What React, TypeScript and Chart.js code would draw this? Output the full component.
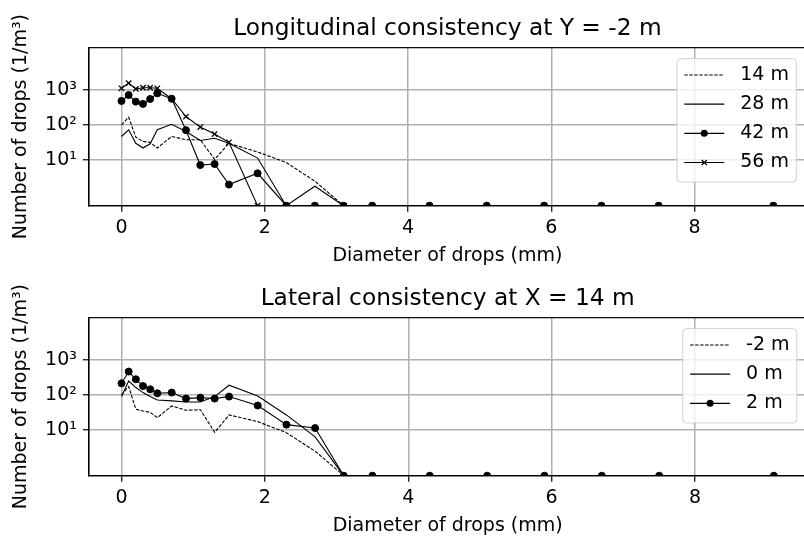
import React, { useEffect, useRef } from 'react';
import { Chart, registerables } from 'chart.js';

Chart.register(...registerables);

// ---------- data ----------
const diameters = [0, 0.1, 0.2, 0.3, 0.4, 0.5, 0.7, 0.9, 1.1, 1.3, 1.5, 1.9, 2.3, 2.7, 3.1, 3.5, 4.3, 5.1, 5.9, 6.7, 7.5, 9.1];
const xTicks = [0, 2, 4, 6, 8];
const yTicks = [10, 100, 1000];
const yTickLabels = ['10¹', '10²', '10³'];

const long14 = [100, 166, 45, 34, 32, 22, 47, 38, 38, 10.5, 30, 17, 8.5, 2.5, 0, 0, 0, 0, 0, 0, 0, 0];
const long28 = [47, 73, 30, 22, 29, 73, 105, 65, 36, 42, 30, 11.4, 0, 1.8, 0, 0, 0, 0, 0, 0, 0, 0];
const long42 = [484, 716, 462, 398, 550, 797, 560, 71, 7.2, 7.7, 2.0, 4.2, 0, 0, 0, 0, 0, 0, 0, 0, 0, 0];
const long56 = [1110, 1550, 1070, 1150, 1150, 1110, 560, 174, 87, 55, 32, 0, 0, 0, 0, 0, 0, 0, 0, 0, 0, 0];

const latM2 = [100, 174, 39, 35, 32, 22.6, 48.6, 36.6, 38, 8.6, 27, 17.4, 8.4, 2.5, 0, 0, 0, 0, 0, 0, 0, 0];
const lat0 = [90, 250, 163, 117, 90, 72, 68, 63, 63, 90, 190, 94, 27, 6.4, 0, 0, 0, 0, 0, 0, 0, 0];
const lat2 = [215, 465, 280, 180, 145, 112, 117, 79, 84, 79, 90, 50, 14.3, 11.4, 0, 0, 0, 0, 0, 0, 0, 0];

const longLabels = ['14 m', '28 m', '42 m', '56 m'];
const latLabels = ['-2 m', '0 m', '2 m'];

const Y_MIN = 0.5;
const Y_MAX = 16000;
const X_MIN = -0.455;
const X_MAX = 9.555;

const FONT = 'DejaVu Sans';

type Kind = 'dashed' | 'solid' | 'dot' | 'cross';

interface Series {
  label: string;
  values: number[];
  kind: Kind;
}

const longSeries: Series[] = [
  { label: longLabels[0], values: long14, kind: 'dashed' },
  { label: longLabels[1], values: long28, kind: 'solid' },
  { label: longLabels[2], values: long42, kind: 'dot' },
  { label: longLabels[3], values: long56, kind: 'cross' },
];

const latSeries: Series[] = [
  { label: latLabels[0], values: latM2, kind: 'dashed' },
  { label: latLabels[1], values: lat0, kind: 'solid' },
  { label: latLabels[2], values: lat2, kind: 'dot' },
];

const DASH = [3.5, 1.5];

function makeDataset(s: Series) {
  const base: any = {
    label: s.label,
    data: diameters.map((x, i) => ({ x, y: s.values[i] > 0 ? s.values[i] : Y_MIN })),
    borderColor: '#000',
    backgroundColor: '#000',
    borderWidth: 1.1,
    fill: false,
    tension: 0,
    pointRadius: 0,
    pointHoverRadius: 0,
  };
  if (s.kind === 'dashed') base.borderDash = DASH;
  if (s.kind === 'dot') {
    base.pointRadius = 3.5;
    base.pointStyle = 'circle';
    base.pointBackgroundColor = '#000';
    base.pointBorderColor = '#000';
    base.pointBorderWidth = 1;
  }
  if (s.kind === 'cross') {
    base.pointRadius = 3.8;
    base.pointStyle = 'crossRot';
    base.pointBorderColor = '#000';
    base.pointBorderWidth = 1.3;
  }
  return base;
}

function framePlugin(series: Series[]) {
  return {
    id: 'frameLegend',
    afterDraw(chart: any) {
      const { ctx, chartArea } = chart;
      const { left, top, right, bottom } = chartArea;
      ctx.save();
      // frame (spines)
      ctx.strokeStyle = '#000';
      ctx.lineWidth = 1.2;
      ctx.setLineDash([]);
      ctx.strokeRect(left, top, right - left, bottom - top);

      // legend
      const fs = 19;
      ctx.font = `${fs}px "${FONT}"`;
      const textW = Math.max(...series.map((s) => ctx.measureText(s.label).width));
      const pad = 7.3;
      const handle = 40;
      const gap = 16;
      const rowH = 29.2;
      const w = pad + handle + gap + textW + pad;
      const h = 6.7 + rowH * series.length;
      const bx = right - 9.6 - w;
      const by = top + 11;
      ctx.beginPath();
      (ctx as any).roundRect(bx, by, w, h, 3.8);
      ctx.fillStyle = 'rgba(255,255,255,0.8)';
      ctx.fill();
      ctx.strokeStyle = 'rgba(204,204,204,0.9)';
      ctx.lineWidth = 1;
      ctx.stroke();

      series.forEach((s, i) => {
        const cy = by + 16.3 + rowH * i;
        const x0 = bx + pad;
        const x1 = x0 + handle;
        ctx.strokeStyle = '#000';
        ctx.lineWidth = 1.1;
        ctx.setLineDash(s.kind === 'dashed' ? DASH : []);
        ctx.beginPath();
        ctx.moveTo(x0, cy);
        ctx.lineTo(x1, cy);
        ctx.stroke();
        ctx.setLineDash([]);
        const cx = (x0 + x1) / 2;
        if (s.kind === 'dot') {
          ctx.fillStyle = '#000';
          ctx.beginPath();
          ctx.arc(cx, cy, 3.5, 0, Math.PI * 2);
          ctx.fill();
        } else if (s.kind === 'cross') {
          const r = 2.6;
          ctx.lineWidth = 1.3;
          ctx.beginPath();
          ctx.moveTo(cx - r, cy - r);
          ctx.lineTo(cx + r, cy + r);
          ctx.moveTo(cx - r, cy + r);
          ctx.lineTo(cx + r, cy - r);
          ctx.stroke();
        }
        ctx.fillStyle = '#000';
        ctx.textAlign = 'left';
        ctx.textBaseline = 'middle';
        ctx.fillText(s.label, x1 + gap, cy);
      });
      ctx.restore();
    },
  };
}

function Panel({ title, series, top }: { title: string; series: Series[]; top: number }) {
  const ref = useRef<HTMLCanvasElement>(null);
  useEffect(() => {
    const canvas = ref.current!;
    const gridOpts = {
      color: '#b0b0b0',
      lineWidth: 1.5,
      tickColor: '#000',
      tickLength: 6,
      tickWidth: 1.2,
    };
    const chart = new Chart(canvas, {
      type: 'line',
      data: { datasets: series.map(makeDataset) },
      options: {
        animation: false,
        responsive: false,
        events: [],
        layout: { padding: 0 },
        plugins: {
          legend: { display: false },
          tooltip: { enabled: false },
          title: {
            display: true,
            text: title,
            fullSize: false,
            color: '#000',
            font: { family: FONT, size: 23.3, weight: 'normal', lineHeight: 1.2 },
            padding: { top: 14.7, bottom: 5.0 },
          },
        },
        scales: {
          x: {
            type: 'linear',
            min: X_MIN,
            max: X_MAX,
            afterBuildTicks: (s: any) => {
              s.ticks = xTicks.map((v) => ({ value: v }));
            },
            afterFit: (s: any) => {
              s.height = 64.3;
            },
            ticks: {
              color: '#000',
              font: { family: FONT, size: 19 },
              padding: 5,
              maxRotation: 0,
              autoSkip: false,
              callback: (v: any) => String(v),
            },
            grid: gridOpts,
            border: { display: true, color: '#000', width: 1.2 },
            title: {
              display: true,
              text: 'Diameter of drops (mm)',
              color: '#000',
              font: { family: FONT, size: 19, lineHeight: 1.2 },
              padding: { top: 0, bottom: 2.2 },
            },
          },
          y: {
            type: 'logarithmic',
            min: Y_MIN,
            max: Y_MAX,
            afterBuildTicks: (s: any) => {
              s.ticks = yTicks.map((v) => ({ value: v }));
            },
            afterFit: (s: any) => {
              s.width = 88.9;
            },
            ticks: {
              color: '#000',
              font: { family: FONT, size: 19 },
              padding: 6,
              autoSkip: false,
              callback: (v: any) => {
                const i = yTicks.indexOf(Number(v));
                return i >= 0 ? yTickLabels[i] : '';
              },
            },
            grid: gridOpts,
            border: { display: true, color: '#000', width: 1.2 },
            title: {
              display: true,
              text: 'Number of drops (1/m³)',
              color: '#000',
              font: { family: FONT, size: 19, lineHeight: 1.2 },
              padding: { top: 9.7, bottom: 0 },
            },
          },
        },
      } as any,
      plugins: [framePlugin(series)],
    });
    return () => chart.destroy();
  }, []);
  return (
    <canvas
      ref={ref}
      width={811}
      height={270}
      style={{ position: 'absolute', left: 0, top, width: 811, height: 270, display: 'block' }}
    />
  );
}

export default function App() {
  return (
    <div
      style={{
        position: 'fixed',
        left: 0,
        top: 0,
        width: 804,
        height: 537,
        overflow: 'hidden',
        background: '#fff',
      }}
    >
      <Panel title="Longitudinal consistency at Y = -2 m" series={longSeries} top={0} />
      <Panel title="Lateral consistency at X = 14 m" series={latSeries} top={270} />
    </div>
  );
}
